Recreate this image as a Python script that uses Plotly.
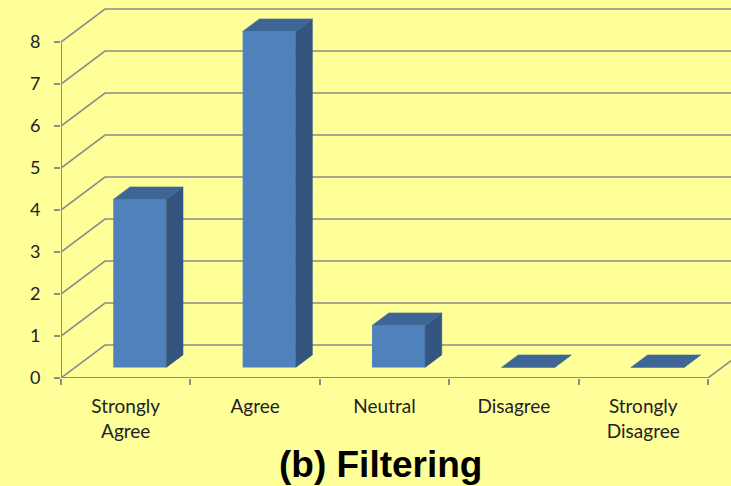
import plotly.graph_objects as go

# ---- data ----
categories = ["Strongly<br>Agree", "Agree", "Neutral", "Disagree", "Strongly<br>Disagree"]
values = [4, 8, 1, 0, 0]
y_ticks = [0, 1, 2, 3, 4, 5, 6, 7, 8]
title_text = "<b>(b) Filtering</b>"

# ---- pseudo-3D geometry (in axis units) ----
DX, DY = 0.34, 0.786          # full depth offset of the back wall
F_FRONT, F_DEPTH = 0.32, 0.38 # bar front position and bar depth (fractions of depth)
BAR_W = 0.41
X_MAX = 4.678

GRID = "#8c8c8c"
FRONT = "#4f81bd"
TOP = "#3d6696"
SIDE = "#33557f"
BG = "#ffff99"

idx = list(range(len(categories)))
fx, fy = F_FRONT * DX, F_FRONT * DY
bdx, bdy = F_DEPTH * DX, F_DEPTH * DY

fig = go.Figure()

# front faces of bars
fig.add_trace(go.Bar(
    x=[i + fx for i in idx], y=values, base=fy, width=BAR_W,
    marker=dict(color=FRONT, line=dict(width=0)), hoverinfo="skip"))

# top and side faces
tx, ty, sx, sy = [], [], [], []
for i, v in zip(idx, values):
    xl = i + fx - BAR_W / 2
    xr = i + fx + BAR_W / 2
    top = v + fy
    tx += [xl, xr, xr + bdx, xl + bdx, xl, None]
    ty += [top, top, top + bdy, top + bdy, top, None]
    sx += [xr, xr, xr + bdx, xr + bdx, xr, None]
    sy += [fy, top, top + bdy, fy + bdy, fy, None]
fig.add_trace(go.Scatter(x=sx, y=sy, fill="toself", fillcolor=SIDE, mode="lines",
                         line=dict(color=SIDE, width=0.5), hoverinfo="skip"))
fig.add_trace(go.Scatter(x=tx, y=ty, fill="toself", fillcolor=TOP, mode="lines",
                         line=dict(color=TOP, width=0.5), hoverinfo="skip"))

# walls / gridlines
shapes = []
for v in y_ticks:
    shapes.append(dict(type="path", xref="x", yref="y", layer="below",
                       path=f"M -0.5,{v} L {-0.5 + DX},{v + DY} L {X_MAX + 0.5},{v + DY}",
                       line=dict(color=GRID, width=1.6)))
# floor right edge
shapes.append(dict(type="line", xref="x", yref="y", layer="below",
                   x0=4.5, y0=0, x1=4.5 + DX, y1=DY, line=dict(color=GRID, width=1.6)))
# front axis lines
shapes.append(dict(type="line", xref="x", yref="y", layer="below",
                   x0=-0.5, y0=0, x1=-0.5, y1=max(y_ticks), line=dict(color=GRID, width=2)))
shapes.append(dict(type="line", xref="x", yref="y", layer="below",
                   x0=-0.5, y0=0, x1=4.5, y1=0, line=dict(color=GRID, width=2)))

fig.update_layout(
    width=731, height=486,
    margin=dict(l=61, r=0, t=0, b=108, pad=0),
    paper_bgcolor=BG, plot_bgcolor=BG,
    showlegend=False,
    shapes=shapes,
    font=dict(family="Lato", size=18, color="#222222"),
    xaxis=dict(range=[-0.5, X_MAX], tickmode="array", tickvals=idx, ticktext=categories,
               ticks="", showgrid=False, zeroline=False, showline=False, automargin=False,
               ticklabelstandoff=15,
               minor=dict(tickmode="array", tickvals=[i - 0.5 for i in range(len(categories) + 1)],
                          ticks="outside", ticklen=6, tickcolor=GRID, tickwidth=2, showgrid=False),
               tickfont=dict(family="Lato", size=19, color="#222222"), fixedrange=True),
    yaxis=dict(range=[0, 9], tickmode="array", tickvals=y_ticks, ticks="outside", ticklen=6,
               tickcolor=GRID, tickwidth=2, showgrid=False, zeroline=False, showline=False,
               automargin=False, ticklabelstandoff=10,
               tickfont=dict(family="Lato", size=18, color="#222222"), fixedrange=True),
    annotations=[dict(text=title_text, xref="paper", yref="paper", x=(380 - 61) / 670,
                      y=-(442 - 378) / 378, xanchor="center", yanchor="top", showarrow=False,
                      font=dict(family="Liberation Sans", size=37, color="#000000"))],
)

fig.write_html("out.html")
